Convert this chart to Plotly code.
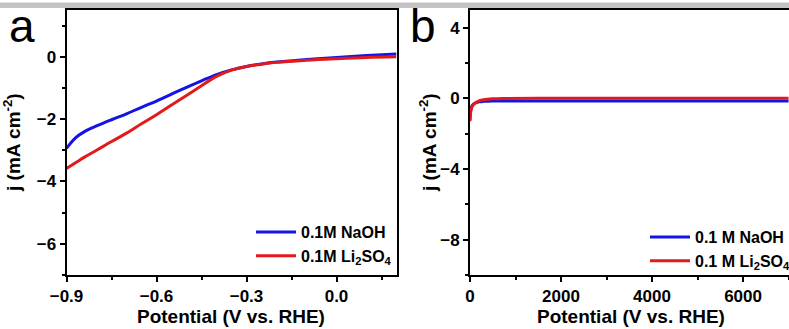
import plotly.graph_objects as go

W, H = 789, 329

# Panel a: LSV
pot_a = [-0.9, -0.87, -0.84, -0.8, -0.75, -0.7, -0.65, -0.6, -0.55, -0.5, -0.45, -0.4,
         -0.35, -0.3, -0.25, -0.2, -0.1, 0.0, 0.1, 0.2]
naoh_a = [-2.94, -2.6, -2.4, -2.22, -2.02, -1.83, -1.62, -1.42, -1.2, -0.98, -0.77, -0.57,
          -0.42, -0.31, -0.23, -0.17, -0.09, -0.02, 0.04, 0.09]
li_a = [-3.58, -3.4, -3.22, -3.0, -2.72, -2.45, -2.15, -1.86, -1.55, -1.24, -0.93, -0.63,
        -0.43, -0.31, -0.24, -0.18, -0.11, -0.06, -0.02, 0.0]

# Panel b: stability
t_b = [0, 20, 50, 100, 200, 300, 500, 800, 1500, 3000, 5000, 7000]
naoh_b = [-1.2, -0.6, -0.4, -0.28, -0.2, -0.17, -0.15, -0.15, -0.15, -0.15, -0.15, -0.15]
li_b = [-1.3, -0.7, -0.45, -0.3, -0.15, -0.08, -0.03, -0.01, 0.0, 0.0, 0.0, 0.0]

x_title = "Potential (V vs. RHE)"
y_title = "j (mA cm<sup>-2</sup>)"

BLUE = "#1414e6"
RED = "#e31a1c"
FONT = "Liberation Sans, Arial, sans-serif"

def px(x):
    return x / W

def py(y):
    return 1 - y / H

fig = go.Figure()
fig.add_trace(go.Scatter(x=pot_a, y=naoh_a, mode="lines", name="0.1M NaOH",
                         line=dict(color=BLUE, width=3, shape="spline"),
                         xaxis="x", yaxis="y", legend="legend"))
fig.add_trace(go.Scatter(x=pot_a, y=li_a, mode="lines", name="0.1M Li<sub>2</sub>SO<sub>4</sub>",
                         line=dict(color=RED, width=3, shape="spline"),
                         xaxis="x", yaxis="y", legend="legend"))
fig.add_trace(go.Scatter(x=t_b, y=naoh_b, mode="lines", name="0.1 M NaOH",
                         line=dict(color=BLUE, width=3, shape="spline"),
                         xaxis="x2", yaxis="y2", legend="legend2"))
fig.add_trace(go.Scatter(x=t_b, y=li_b, mode="lines", name="0.1 M Li<sub>2</sub>SO<sub>4</sub>",
                         line=dict(color=RED, width=3, shape="spline"),
                         xaxis="x2", yaxis="y2", legend="legend2"))

tickfont = dict(family=FONT, size=17, color="black", weight="bold")
titlefont = dict(family=FONT, size=19, color="black", weight="bold")
legfont = dict(family=FONT, size=16, color="black", weight="bold")

common = dict(showline=True, linecolor="black", linewidth=2, ticks="outside",
              ticklen=5, tickwidth=2, tickcolor="black", showgrid=False, zeroline=False,
              tickfont=tickfont, automargin=False)

ydom = [py(275), py(10)]

def title_ann(text, x, y, angle=0):
    return dict(text=text, x=px(x), y=py(y), xref="paper", yref="paper", showarrow=False,
                xanchor="center", yanchor="middle", textangle=angle, font=titlefont)

fig.update_layout(
    template="none",
    width=W, height=H,
    margin=dict(l=0, r=0, t=0, b=0, autoexpand=False),
    paper_bgcolor="white", plot_bgcolor="white",
    xaxis=dict(domain=[px(66.5), px(396.5)], range=[-0.9, 0.2], dtick=0.3, tick0=-0.9,
               tickformat=".1f", mirror=True, anchor="y",
               minor=dict(dtick=0.15, ticklen=3, tickwidth=2, ticks="outside", tickcolor="black"),
               **common),
    yaxis=dict(domain=ydom, range=[-7, 1.5], dtick=2, tick0=0, mirror=True, anchor="x",
               minor=dict(dtick=1, ticklen=3, tickwidth=2, ticks="outside", tickcolor="black"),
               **common),
    xaxis2=dict(domain=[px(470), 1.0], range=[0, 7010], dtick=2000, tick0=0,
                mirror=True, anchor="y2",
                minor=dict(dtick=1000, ticklen=3, tickwidth=2, ticks="outside", tickcolor="black"),
                **common),
    yaxis2=dict(domain=ydom, range=[-10, 5], dtick=4, tick0=0, mirror=False, anchor="x2",
                minor=dict(dtick=2, ticklen=3, tickwidth=2, ticks="outside", tickcolor="black"),
                **common),
    legend=dict(x=px(251), y=py(215), xanchor="left", yanchor="top",
                bgcolor="rgba(0,0,0,0)", font=legfont, tracegroupgap=0, itemwidth=40),
    legend2=dict(x=px(645), y=py(220), xanchor="left", yanchor="top",
                 bgcolor="rgba(0,0,0,0)", font=legfont, tracegroupgap=0, itemwidth=40),
    shapes=[dict(type="rect", xref="paper", yref="paper", x0=0, x1=1, y0=py(8), y1=py(2.5),
                 fillcolor="#c3c3c3", line=dict(width=0), layer="above")],
    annotations=[
        dict(text="a", x=px(22), y=py(26), xref="paper", yref="paper", showarrow=False,
             xanchor="center", yanchor="middle",
             font=dict(family=FONT, size=46, color="black")),
        dict(text="b", x=px(423), y=py(26), xref="paper", yref="paper", showarrow=False,
             xanchor="center", yanchor="middle",
             font=dict(family=FONT, size=46, color="black")),
        title_ann(x_title, 231, 316),
        title_ann(x_title, 631, 316),
        title_ann(y_title, 12, 143, -90),
        title_ann(y_title, 428, 143, -90),
    ],
)

fig.write_html("out.html")
